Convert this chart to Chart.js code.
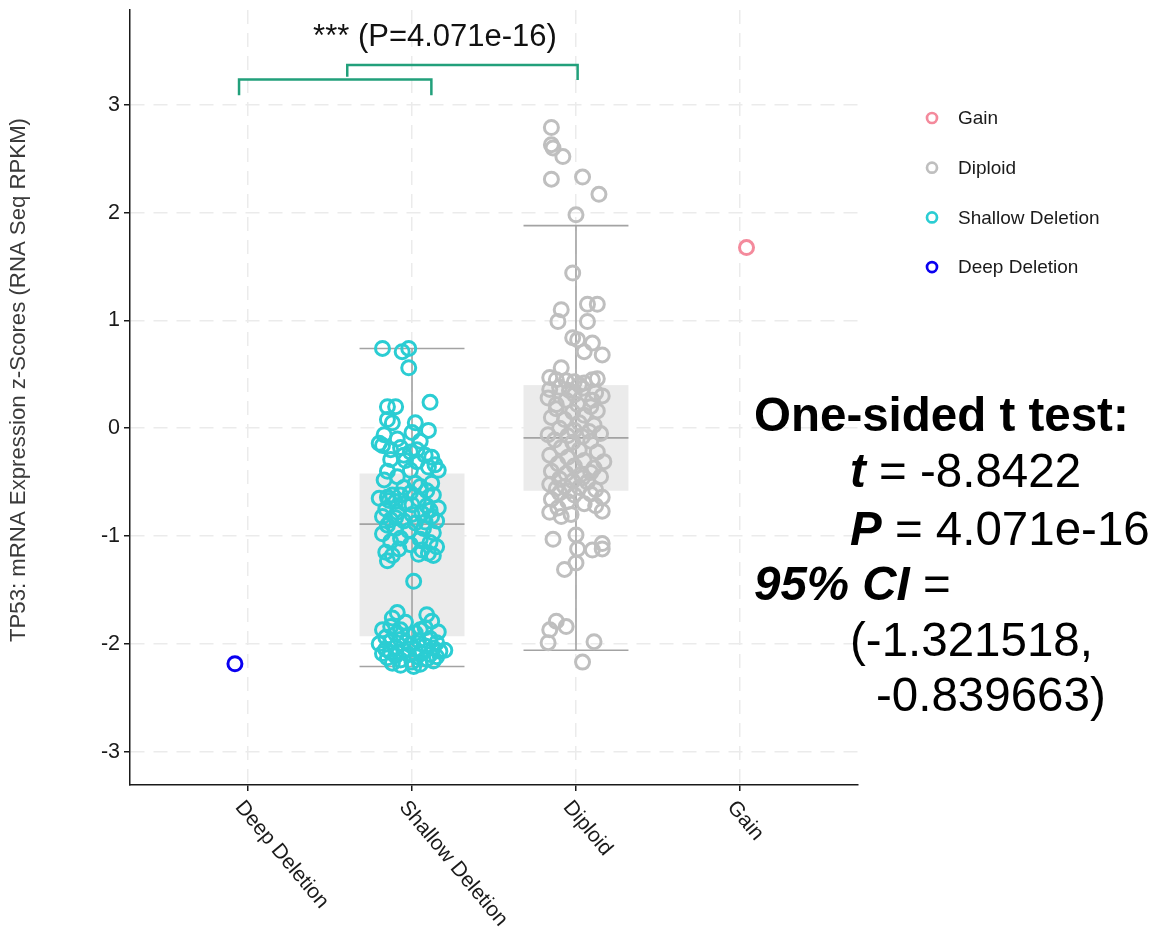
<!DOCTYPE html>
<html>
<head>
<meta charset="utf-8">
<title>TP53 mRNA expression by copy-number group</title>
<script src="https://cdn.jsdelivr.net/npm/chart.js@4/dist/chart.umd.min.js"></script>
<style>
  html, body { margin: 0; padding: 0; background: #ffffff; }
  #wrap { position: relative; width: 1154px; height: 934px; }
</style>
</head>
<body>
<div id="wrap"><canvas id="chart" width="1154" height="934"></canvas></div>
<script>
// Copy-number groups, in x order (positions 1..4)
const categories = ['Deep Deletion', 'Shallow Deletion', 'Diploid', 'Gain'];
const yTicks = [-3, -2, -1, 0, 1, 2, 3];

// Deep deletion sample
const deepExpr = [-2.185];
const deepJitter = [-0.08];

// Gain sample
const gainExpr = [1.676];
const gainJitter = [0.04];

// Shallow deletion samples (z-score) and horizontal jitter (category units)
const shallowExpr = [
  0.74, 0.71, 0.74, 0.56, 0.24, 0.20, 0.20, 0.08, 0.05, 0.05,
  -0.06, -0.04, -0.12, -0.16, -0.20, -0.18, -0.25, -0.22, -0.20, -0.25,
  -0.29, -0.27, -0.31, -0.36, -0.39, -0.34, -0.39, -0.40, -0.10, -0.02,
  -0.30, -0.14,
  -0.48, -0.51, -0.51, -0.54, -0.60, -0.62, -0.64, -0.62, -0.62, -0.65,
  -0.68, -0.70, -0.66, -0.72, -0.74, -0.75, -0.78, -0.80, -0.79, -0.82,
  -0.82, -0.85, -0.86, -0.88, -0.86, -0.45, -0.55, -0.58, -0.67, -0.71,
  -0.76, -0.83, -0.87,
  -0.90, -0.93, -0.93, -0.95, -0.98, -0.97, -1.02, -1.03, -1.05, -1.06,
  -1.08, -1.10, -1.12, -1.13, -1.15, -1.16, -1.18, -1.18, -1.23, -1.17,
  -1.42,
  -1.71, -1.73, -1.76, -1.79, -1.80, -1.84, -1.85, -1.87, -1.87, -1.87,
  -1.89, -1.90, -1.91, -1.92,
  -1.94, -1.95, -1.96, -1.97, -1.98, -1.99, -2.00, -2.01, -2.02, -2.03,
  -2.04, -2.05, -2.05, -2.06, -2.07, -2.08, -2.08, -2.09, -2.10, -2.10,
  -2.11, -2.12, -2.12, -2.13, -2.14, -2.15, -2.16, -2.17, -2.18, -2.19,
  -2.20, -2.21, -2.06
];
const shallowJitter = [
  -0.18, -0.06, -0.02, -0.02, 0.11, -0.15, -0.10, -0.15, -0.12, 0.02,
  -0.17, 0.00, 0.05, -0.18, -0.13, -0.07, -0.05, -0.01, 0.03, 0.08,
  -0.13, 0.12, 0.03, 0.10, 0.16, 0.14, -0.01, -0.15, -0.09, 0.10,
  -0.04, -0.20,
  -0.17, 0.12, 0.02, 0.05, -0.01, -0.12, -0.15, -0.07, 0.13, -0.20,
  -0.10, -0.04, 0.04, 0.09, 0.16, -0.16, -0.09, 0.00, 0.06, 0.12,
  -0.18, -0.13, -0.05, 0.02, 0.15, -0.09, -0.05, 0.09, -0.14, 0.00,
  0.11, -0.10, 0.08,
  -0.15, -0.10, 0.07, -0.02, -0.18, 0.13, -0.07, 0.05, -0.13, 0.11,
  -0.01, 0.15, -0.08, 0.06, -0.16, 0.10, -0.12, 0.13, -0.15, 0.04,
  0.01,
  -0.09, 0.09, -0.12, 0.12, -0.04, -0.13, 0.08, -0.18, -0.07, 0.05,
  0.16, 0.02, -0.10, -0.02,
  -0.16, 0.11, -0.07, 0.04, -0.13, 0.15, -0.20, -0.01, 0.08, -0.10,
  0.13, -0.16, 0.02, -0.05, 0.17, -0.13, 0.05, -0.18, 0.11, -0.02,
  -0.10, 0.15, 0.03, -0.15, 0.09, -0.07, 0.13, 0.00, -0.12, 0.05,
  -0.07, 0.01, 0.20
];

// Diploid samples (z-score) and horizontal jitter (category units)
const diploidExpr = [
  2.79, 2.63, 2.60, 2.52, 2.31, 2.33, 2.17, 1.98, 1.44,
  1.10, 0.99, 1.15, 1.15, 0.99, 0.84, 0.82, 0.79, 0.71, 0.68, 0.56, 0.47,
  0.45, 0.44, 0.43, 0.42, 0.45, 0.46, 0.40,
  0.36, 0.38, 0.35, 0.37, 0.33, 0.30, 0.28, 0.26, 0.22, 0.20,
  0.18, 0.15, 0.16, 0.12, 0.10, 0.08, 0.05, 0.03, 0.00, -0.02,
  -0.03, -0.06, -0.07, -0.08, -0.05, 0.22, 0.26, 0.31,
  -0.11, -0.13, -0.12, -0.18, -0.20, -0.22, -0.25, -0.27, -0.30, -0.33,
  -0.35, -0.37, -0.40, -0.42, -0.43, -0.45, -0.47, -0.49, -0.50, -0.52,
  -0.54, -0.55, -0.57, -0.56, -0.58, -0.46, -0.41, -0.31,
  -0.60, -0.62, -0.61, -0.64, -0.66, -0.68, -0.70, -0.72, -0.74, -0.77,
  -0.78, -0.82, -0.99, -1.03, -1.12, -1.13, -1.07, -1.12, -1.25, -1.31,
  -1.79, -1.84, -1.87, -1.99, -1.98, -2.17, -0.80
];
const diploidJitter = [
  -0.15, -0.15, -0.14, -0.08, -0.15, 0.04, 0.14, 0.00, -0.02,
  -0.09, -0.11, 0.07, 0.13, 0.07, -0.02, 0.01, 0.10, 0.05, 0.16, -0.09, -0.16,
  -0.12, -0.06, -0.01, 0.05, 0.10, 0.13, 0.02,
  -0.16, -0.10, -0.04, 0.04, 0.12, 0.16, -0.17, -0.06, 0.01, 0.09,
  -0.12, -0.02, 0.13, 0.05, -0.15, -0.07, 0.02, 0.11, -0.10, -0.01,
  0.08, -0.17, -0.05, 0.04, 0.15, -0.12, 0.10, -0.01,
  -0.13, -0.02, 0.09, -0.09, 0.02, 0.13, -0.16, -0.05, 0.05, -0.11,
  -0.01, 0.11, -0.15, -0.06, 0.03, 0.15, -0.10, -0.02, 0.07, -0.16,
  -0.07, 0.02, 0.12, -0.12, -0.04, 0.04, 0.09, 0.17,
  -0.10, -0.01, 0.09, 0.16, -0.15, -0.05, 0.05, 0.12, -0.11, 0.16,
  -0.16, -0.09, 0.00, -0.14, 0.01, 0.10, 0.16, 0.16, 0.00, -0.07,
  -0.12, -0.06, -0.16, -0.17, 0.11, 0.04, -0.03
];

// Box-and-whisker summaries for the two large groups
const boxPositions = [2, 3];
const boxLower = [-2.21, -2.06];
const boxQ1 = [-1.93, -0.58];
const boxMedian = [-0.89, -0.09];
const boxQ3 = [-0.42, 0.40];
const boxUpper = [0.74, 1.88];

// Significance brackets (x in category units, y in z-score units)
const bracketLowX = [0.945, 0.945, 2.118, 2.118];
const bracketLowY = [3.09, 3.235, 3.235, 3.09];
const bracketHighX = [1.605, 1.605, 3.01, 3.01];
const bracketHighY = [3.26, 3.37, 3.37, 3.23];
const pLabel = '*** (P=4.071e-16)';

// Legend entries (top to bottom)
const legendLabels = ['Gain', 'Diploid', 'Shallow Deletion', 'Deep Deletion'];

const COLORS = {
  'Gain': '#F48A9C',
  'Diploid': '#BFBFBF',
  'Shallow Deletion': '#2BCDD3',
  'Deep Deletion': '#0A00F0'
};
const FONT = '"Liberation Sans", Arial, Helvetica, sans-serif';

function toPoints(pos, values, jitter) {
  return values.map((v, i) => ({ x: pos + jitter[i], y: v }));
}
function toLine(xs, ys) {
  return xs.map((x, i) => ({ x: x, y: ys[i] }));
}

function pointSet(label, pos, values, jitter) {
  return {
    label: label,
    data: toPoints(pos, values, jitter),
    pointStyle: 'circle',
    pointRadius: 7,
    pointBorderWidth: 3,
    borderColor: COLORS[label],
    backgroundColor: 'rgba(0,0,0,0)',
    showLine: false,
    order: 2
  };
}

function bracketSet(xs, ys) {
  return {
    label: 'bracket',
    data: toLine(xs, ys),
    showLine: true,
    borderColor: '#22A07B',
    borderWidth: 2.5,
    pointRadius: 0,
    fill: false,
    tension: 0,
    borderJoinStyle: 'miter',
    borderCapStyle: 'butt',
    clip: false,
    order: 1
  };
}

// Boxes drawn under the points
const boxPlugin = {
  id: 'boxes',
  beforeDatasetsDraw(chart) {
    const { ctx, scales: { x, y } } = chart;
    const half = 0.32;
    ctx.save();
    boxPositions.forEach((pos, i) => {
      const xl = x.getPixelForValue(pos - half);
      const xr = x.getPixelForValue(pos + half);
      const xc = x.getPixelForValue(pos);
      const yq1 = y.getPixelForValue(boxQ1[i]);
      const yq3 = y.getPixelForValue(boxQ3[i]);
      ctx.fillStyle = '#EBEBEB';
      ctx.fillRect(xl, yq3, xr - xl, yq1 - yq3);
      ctx.strokeStyle = '#A3A3A3';
      ctx.lineWidth = 1.6;
      ctx.beginPath();
      // whisker stem
      ctx.moveTo(xc, y.getPixelForValue(boxUpper[i]));
      ctx.lineTo(xc, y.getPixelForValue(boxLower[i]));
      // caps and median
      [boxUpper[i], boxLower[i], boxMedian[i]].forEach(v => {
        const py = y.getPixelForValue(v);
        ctx.moveTo(xl, py);
        ctx.lineTo(xr, py);
      });
      ctx.stroke();
    });
    ctx.restore();
  }
};

// Rotated category labels, axis title, legend and test summary
const decorPlugin = {
  id: 'decor',
  afterDraw(chart) {
    const { ctx, scales: { x, y }, chartArea } = chart;
    ctx.save();

    // category labels, rotated clockwise, starting at each tick
    ctx.font = '21px ' + FONT;
    ctx.fillStyle = '#1A1A1A';
    ctx.textAlign = 'left';
    ctx.textBaseline = 'top';
    categories.forEach((c, i) => {
      const px = x.getPixelForValue(i + 1);
      ctx.save();
      ctx.translate(px - 1, chartArea.bottom + 12);
      ctx.rotate(50 * Math.PI / 180);
      ctx.fillText(c, 0, 0);
      ctx.restore();
    });

    // y-axis title
    ctx.save();
    ctx.translate(19, 380);
    ctx.rotate(-Math.PI / 2);
    ctx.textAlign = 'center';
    ctx.textBaseline = 'middle';
    ctx.font = '22.2px ' + FONT;
    ctx.fillStyle = '#3A3A3A';
    ctx.fillText('TP53: mRNA Expression z-Scores (RNA Seq RPKM)', 0, 0);
    ctx.restore();

    // significance label above the brackets
    ctx.font = '31px ' + FONT;
    ctx.fillStyle = '#111111';
    ctx.textAlign = 'center';
    ctx.textBaseline = 'alphabetic';
    ctx.fillText(pLabel, 435, 46);

    // legend
    ctx.textAlign = 'left';
    ctx.textBaseline = 'middle';
    ctx.font = '19px ' + FONT;
    legendLabels.forEach((lab, i) => {
      const ly = 118 + i * 49.7;
      ctx.beginPath();
      ctx.arc(932, ly, 5, 0, Math.PI * 2);
      ctx.lineWidth = 2.7;
      ctx.strokeStyle = COLORS[lab];
      ctx.stroke();
      ctx.fillStyle = '#1A1A1A';
      ctx.fillText(lab, 958, ly + 1);
    });

    // one-sided t test summary
    ctx.fillStyle = '#000000';
    ctx.textBaseline = 'alphabetic';
    const big = 47.5;
    const bold = 'bold ' + big + 'px ' + FONT;
    const boldIt = 'italic bold ' + big + 'px ' + FONT;
    const reg = big + 'px ' + FONT;
    function runs(parts, x0, yb) {
      let cx = x0;
      parts.forEach(([txt, f]) => {
        ctx.font = f;
        ctx.fillText(txt, cx, yb);
        cx += ctx.measureText(txt).width;
      });
    }
    runs([['One-sided t test:', bold]], 754, 431);
    runs([['t', boldIt], [' = -8.8422', reg]], 850, 487);
    runs([['P', boldIt], [' = 4.071e-16', reg]], 850, 545);
    runs([['95% CI', boldIt], [' =', reg]], 754, 600);
    runs([['(-1.321518,', reg]], 850, 656);
    runs([['-0.839663)', reg]], 876, 711);

    ctx.restore();
  }
};

// keep the plot frame fixed: no extra edge padding from tick labels
function noEdgePadding(scale) {
  scale.paddingTop = 0;
  scale.paddingBottom = 0;
  scale.paddingLeft = 0;
  scale.paddingRight = 0;
}

const chart = new Chart(document.getElementById('chart'), {
  type: 'scatter',
  data: {
    datasets: [
      bracketSet(bracketLowX, bracketLowY),
      bracketSet(bracketHighX, bracketHighY),
      pointSet('Deep Deletion', 1, deepExpr, deepJitter),
      pointSet('Shallow Deletion', 2, shallowExpr, shallowJitter),
      pointSet('Diploid', 3, diploidExpr, diploidJitter),
      pointSet('Gain', 4, gainExpr, gainJitter)
    ]
  },
  options: {
    responsive: false,
    animation: false,
    events: [],
    layout: { padding: { left: 0, top: 10, right: 296, bottom: 0 } },
    plugins: {
      legend: { display: false },
      tooltip: { enabled: false }
    },
    scales: {
      x: {
        type: 'linear',
        min: 0.28,
        max: 4.72,
        afterBuildTicks(scale) {
          scale.ticks = categories.map((c, i) => ({ value: i + 1 }));
        },
        afterFit(scale) { scale.height = 149; noEdgePadding(scale); },
        ticks: { display: false },
        grid: {
          color: '#EBEBEB',
          lineWidth: 1.5,
          drawTicks: true,
          tickLength: 6,
          tickColor: '#1A1A1A',
          tickWidth: 1.5
        },
        border: { display: true, color: '#1A1A1A', width: 1.5, dash: [14, 9] }
      },
      y: {
        type: 'linear',
        min: -3.31,
        max: 3.88,
        afterBuildTicks(scale) {
          scale.ticks = yTicks.map(v => ({ value: v }));
        },
        afterFit(scale) { scale.width = 130; noEdgePadding(scale); },
        ticks: {
          color: '#1A1A1A',
          font: { family: FONT, size: 21.5 },
          padding: 4,
          callback: v => String(v)
        },
        grid: {
          color: '#EBEBEB',
          lineWidth: 1.5,
          drawTicks: true,
          tickLength: 6,
          tickColor: '#1A1A1A',
          tickWidth: 1.5
        },
        border: { display: true, color: '#1A1A1A', width: 1.5, dash: [14, 9] }
      }
    }
  },
  plugins: [boxPlugin, decorPlugin]
});
</script>
</body>
</html>
